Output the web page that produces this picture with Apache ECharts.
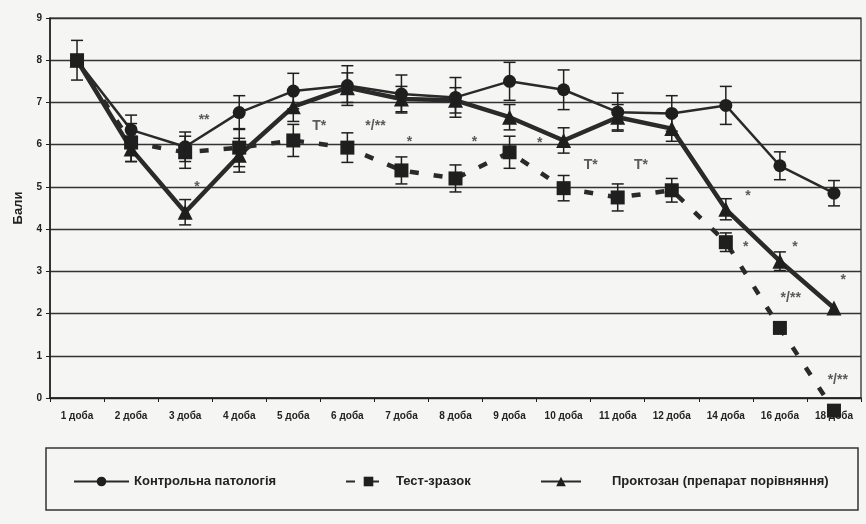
<!DOCTYPE html>
<html>
<head>
<meta charset="utf-8">
<script src="https://cdn.jsdelivr.net/npm/echarts@6/dist/echarts.min.js"></script>
<style>
  * { margin: 0; padding: 0; }
  body { background: #f5f5f3; }
  #chart { width: 866px; height: 524px; }
</style>
</head>
<body>
<div id="chart"></div>
<script>
// категорії (доби)
const days = ["1 доба", "2 доба", "3 доба", "4 доба", "5 доба", "6 доба", "7 доба", "8 доба",
  "9 доба", "10 доба", "11 доба", "12 доба", "14 доба", "16 доба", "18 доба"];

// середні значення, бали
const control = [8.0, 6.35, 5.95, 6.76, 7.27, 7.4, 7.2, 7.12, 7.5, 7.3, 6.77, 6.74, 6.93, 5.5, 4.85];
const testSample = [8.0, 6.05, 5.82, 5.93, 6.1, 5.93, 5.39, 5.2, 5.82, 4.97, 4.75, 4.92, 3.69, 1.66, -0.3];
const proctosan = [8.0, 5.9, 4.4, 5.75, 6.9, 7.35, 7.08, 7.05, 6.65, 6.1, 6.65, 6.38, 4.47, 3.24, 2.13];

// похибки (±)
const controlErr = [0.47, 0.35, 0.35, 0.4, 0.42, 0.47, 0.45, 0.47, 0.45, 0.47, 0.45, 0.42, 0.45, 0.33, 0.3];
const testErr = [0, 0.45, 0.38, 0.45, 0.38, 0.35, 0.32, 0.32, 0.38, 0.3, 0.32, 0.28, 0.22, 0, 0];
const proctosanErr = [0, 0.3, 0.3, 0.4, 0.35, 0.35, 0.3, 0.3, 0.3, 0.3, 0.3, 0.3, 0.25, 0.22, 0];

// позначки достовірності (позиція в індексах доби / балах)
const noteX = [2.35, 2.22, 4.48, 5.52, 6.15, 7.35, 8.56, 9.5, 10.43, 12.41, 12.37, 13.28, 14.17, 13.2, 14.07];
const noteY = [6.57, 4.99, 6.45, 6.45, 6.05, 6.05, 6.03, 5.51, 5.51, 4.78, 3.57, 3.57, 2.79, 2.36, 0.43];
const noteText = ["**", "*", "T*", "*/**", "*", "*", "*", "T*", "T*", "*", "*", "*", "*", "*/**", "*/**"];

const yTicks = [0, 1, 2, 3, 4, 5, 6, 7, 8, 9];

const ink = "#1f1f1f";
const font = "'Liberation Sans', Arial, sans-serif";

function errData(vals, errs) {
  return vals.map((v, i) => [i, v - errs[i], v + errs[i]]).filter((d, i) => errs[i] > 0);
}

function errSeries(vals, errs) {
  return {
    type: "custom",
    z: 5,
    data: errData(vals, errs),
    renderItem(params, api) {
      const top = api.coord([api.value(0), api.value(2)]);
      const bot = api.coord([api.value(0), api.value(1)]);
      const w = 6;
      return {
        type: "group",
        children: [
          { type: "line", shape: { x1: top[0], y1: top[1], x2: bot[0], y2: bot[1] }, style: { stroke: ink, lineWidth: 1.5 } },
          { type: "line", shape: { x1: top[0] - w, y1: top[1], x2: top[0] + w, y2: top[1] }, style: { stroke: ink, lineWidth: 1.5 } },
          { type: "line", shape: { x1: bot[0] - w, y1: bot[1], x2: bot[0] + w, y2: bot[1] }, style: { stroke: ink, lineWidth: 1.5 } }
        ]
      };
    }
  };
}

const chart = echarts.init(document.getElementById("chart"), null, { renderer: "canvas" });

const legendText = { fontFamily: font, fontWeight: "bold", fontSize: 13, color: "#222" };

const option = {
  backgroundColor: "#f5f5f3",
  animation: false,
  grid: { left: 50, right: 5, top: 18, bottom: 126, show: true, borderColor: ink, borderWidth: 1.2 },
  xAxis: [
    {
      type: "category",
      data: days,
      axisLine: { lineStyle: { color: ink, width: 1.5 } },
      axisTick: { show: true, length: 4, lineStyle: { color: ink } },
      axisLabel: { color: "#222", fontFamily: font, fontWeight: "bold", fontSize: 10, margin: 13 }
    },
    { type: "value", min: -0.5, max: 14.5, show: false }
  ],
  yAxis: {
    type: "value",
    min: yTicks[0],
    max: yTicks[yTicks.length - 1],
    interval: 1,
    name: "Бали",
    nameLocation: "middle",
    nameGap: 25,
    nameTextStyle: { color: "#222", fontFamily: font, fontWeight: "bold", fontSize: 13 },
    axisLine: { show: true, onZero: false, lineStyle: { color: ink, width: 1.5 } },
    axisTick: { show: true, length: 4, lineStyle: { color: ink } },
    axisLabel: { color: "#222", fontFamily: font, fontWeight: "bold", fontSize: 10, margin: 8 },
    splitLine: { lineStyle: { color: "#333", width: 1.3 } }
  },
  legend: [
    { left: 68, top: 470, itemWidth: 55, itemHeight: 12, data: ["Контрольна патологія"], textStyle: legendText },
    { left: 340, top: 470, itemWidth: 45, itemHeight: 12, data: ["Тест-зразок"], textStyle: legendText },
    { left: 535, top: 470, itemWidth: 40, itemHeight: 12, data: ["Проктозан (препарат порівняння)"],
      textStyle: Object.assign({ padding: [0, 0, 0, 26] }, legendText) }
  ],
  graphic: [
    { type: "rect", shape: { x: 46, y: 448, width: 812, height: 62 }, style: { fill: "none", stroke: "#333", lineWidth: 1.5 } }
  ],
  series: [
    {
      name: "Контрольна патологія",
      type: "line",
      data: control,
      symbol: "circle",
      symbolSize: 13,
      itemStyle: { color: ink },
      lineStyle: { color: "#2a2a2a", width: 2.5 },
      z: 3
    },
    {
      name: "Тест-зразок",
      type: "line",
      data: testSample,
      clip: false,
      symbol: "rect",
      symbolSize: 14,
      itemStyle: { color: ink },
      lineStyle: { color: "#2a2a2a", width: 4.5, type: [9, 15] },
      z: 3
    },
    {
      name: "Проктозан (препарат порівняння)",
      type: "line",
      data: proctosan,
      symbol: "triangle",
      symbolSize: 15,
      itemStyle: { color: ink },
      lineStyle: { color: "#2a2a2a", width: 4.5 },
      z: 3
    },
    errSeries(control, controlErr),
    errSeries(testSample, testErr),
    errSeries(proctosan, proctosanErr),
    {
      type: "scatter",
      xAxisIndex: 1,
      symbolSize: 0,
      silent: true,
      data: noteX.map((x, i) => [x, noteY[i], noteText[i]]),
      label: {
        show: true,
        position: "inside",
        formatter: (p) => p.value[2],
        color: "#333",
        fontFamily: font,
        fontWeight: "bold",
        fontSize: 14
      },
      z: 6
    }
  ]
};

chart.setOption(option);
</script>
</body>
</html>
